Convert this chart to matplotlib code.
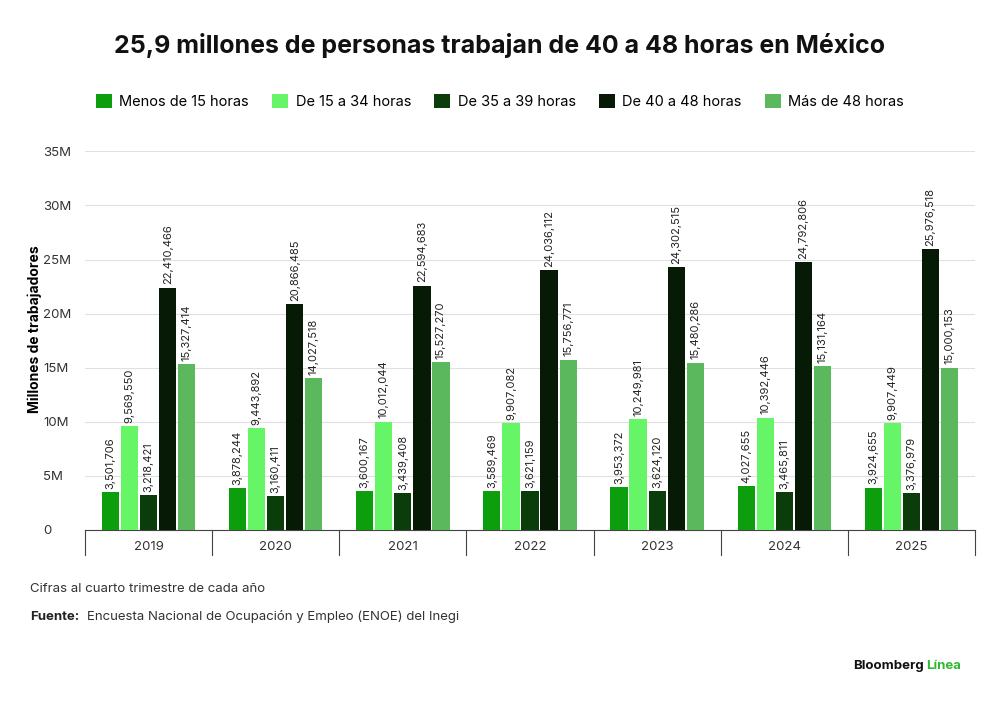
import matplotlib.pyplot as plt
import numpy as np

years = ['2019', '2020', '2021', '2022', '2023', '2024', '2025']
series = ['Menos de 15 horas', 'De 15 a 34 horas', 'De 35 a 39 horas', 'De 40 a 48 horas', 'Más de 48 horas']
menos15 = [3501706, 3878244, 3600167, 3589469, 3953372, 4027655, 3924655]
de15a34 = [9569550, 9443892, 10012044, 9907082, 10249981, 10392446, 9907449]
de35a39 = [3218421, 3160411, 3439408, 3621159, 3624120, 3465811, 3376979]
de40a48 = [22410466, 20866485, 22594683, 24036112, 24302515, 24792806, 25976518]
mas48 = [15327414, 14027518, 15527270, 15756771, 15480286, 15131164, 15000153]
values = [menos15, de15a34, de35a39, de40a48, mas48]
colors = ['#0d9e0d', '#66f566', '#0b3d0b', '#061a06', '#5cb85c']

plt.rcParams['font.family'] = ['Inter', 'DejaVu Sans']
fig = plt.figure(figsize=(10, 7.01), dpi=100)
ax = fig.add_axes([0.085, 0.244, 0.89, 0.54])

x = np.arange(len(years))
w = 0.135
step = 0.15
for i, (name, vals) in enumerate(zip(series, values)):
    pos = x + (i - 2) * step
    ax.bar(pos, vals, width=w, color=colors[i], label=name, zorder=3)
    for p, v in zip(pos, vals):
        ax.text(p, v + 300000, f'{v:,}', rotation=90, ha='center', va='bottom',
                fontsize=8, color='#222222', zorder=4)

ax.set_xlim(-0.5, len(years) - 0.5)
ax.set_ylim(0, 35e6)
ax.set_yticks(np.arange(0, 35e6 + 1, 5e6))
ax.set_yticklabels(['0'] + [f'{i}M' for i in range(5, 40, 5)], fontsize=9.5, color='#333333', ha='left')
ax.tick_params(axis='y', length=0, pad=30)
ax.grid(axis='y', color='#e0e0e0', linewidth=0.8, zorder=0)
ax.set_xticks(x)
ax.set_xticklabels(years, fontsize=9.5, color='#333333')
ax.tick_params(axis='x', length=0, pad=8)
for b in np.arange(-0.5, len(years), 1):
    ax.plot([b, b], [0, -0.065], transform=ax.get_xaxis_transform(), color='#444444',
            linewidth=0.8, clip_on=False)
for s in ['top', 'right', 'left']:
    ax.spines[s].set_visible(False)
ax.spines['bottom'].set_color('#444444')
ax.set_ylabel('Millones de trabajadores', fontsize=10, fontweight='bold')
ax.yaxis.set_label_coords(-0.048, 0.53)

fig.text(0.5, 0.925, '25,9 millones de personas trabajan de 40 a 48 horas en México',
         ha='center', fontsize=18, fontweight='bold', color='#111111')
fig.legend(loc='center', bbox_to_anchor=(0.5, 0.855), ncol=5, frameon=False,
           fontsize=10.5, handlelength=1.1, handleheight=1.1, columnspacing=1.6, handletextpad=0.5)

fig.text(0.03, 0.155, 'Cifras al cuarto trimestre de cada año', fontsize=9.5, color='#333333')
fig.text(0.03, 0.115, 'Fuente:', fontsize=9.5, fontweight='bold', color='#222222')
fig.text(0.087, 0.115, 'Encuesta Nacional de Ocupación y Empleo (ENOE) del Inegi',
         fontsize=9.5, color='#333333')
fig.text(0.853, 0.045, 'Bloomberg', fontsize=9.5, fontweight='bold', color='#111111')
fig.text(0.926, 0.045, 'Línea', fontsize=9.5, fontweight='bold', color='#2fb82f')

fig.savefig('out.png', dpi=100, facecolor='white')
